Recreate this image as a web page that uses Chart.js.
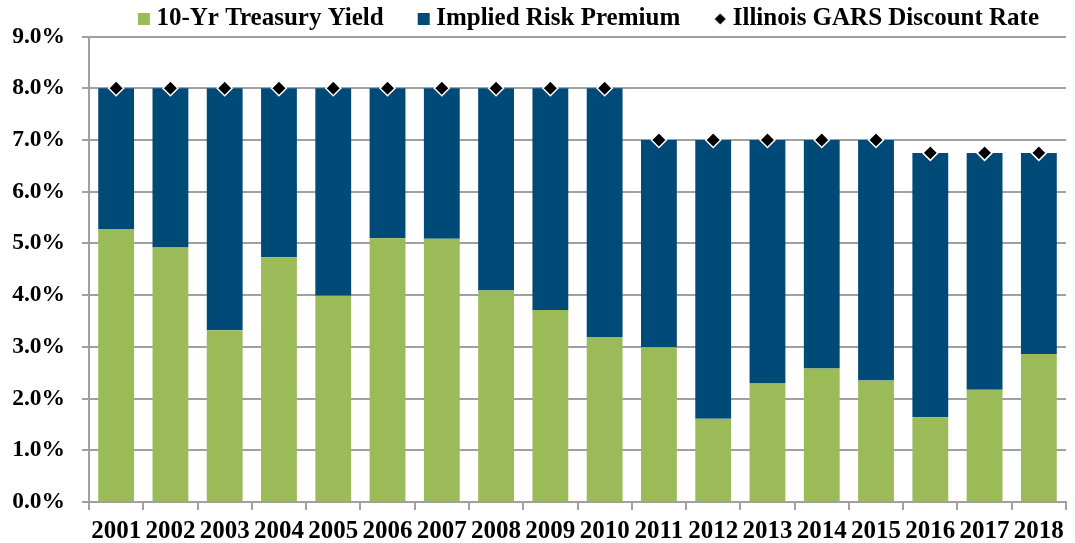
<!DOCTYPE html>
<html lang="en">
<head>
  <meta charset="UTF-8">
  <title>Illinois GARS Discount Rate</title>
  <script src="https://cdn.jsdelivr.net/npm/chart.js"></script>
  <style>
    html, body { margin: 0; padding: 0; background: #fff; overflow: hidden; }
    #wrap { width: 1075px; height: 543px; }
  </style>
</head>
<body>
<div id="wrap"><canvas id="rateChart"></canvas></div>

<script>
  // fiscal years on the x axis
  const years = ['2001', '2002', '2003', '2004', '2005', '2006', '2007', '2008', '2009',
                 '2010', '2011', '2012', '2013', '2014', '2015', '2016', '2017', '2018'];

  // 10-year treasury yield (%)
  const treasuryYield = [5.28, 4.92, 3.32, 4.73, 3.99, 5.10, 5.09, 4.09, 3.71,
                         3.19, 2.99, 1.61, 2.29, 2.58, 2.35, 1.64, 2.17, 2.86];

  // assumed discount rate (%)
  const discountRate = [8.0, 8.0, 8.0, 8.0, 8.0, 8.0, 8.0, 8.0, 8.0,
                        8.0, 7.0, 7.0, 7.0, 7.0, 7.0, 6.75, 6.75, 6.75];

  // risk premium is whatever sits between the yield and the discount rate
  const riskPremium = discountRate.map((r, i) => +(r - treasuryYield[i]).toFixed(2));

  const yTicks = [0, 1, 2, 3, 4, 5, 6, 7, 8, 9];

  const serif = '"Liberation Serif", "Times New Roman", serif';
  const xTickFont = { family: serif, weight: 'bold', size: 25 };
  const yTickFont = { family: serif, weight: 'bold', size: 23.5 };
  const legendFont = { family: serif, weight: 'bold', size: 25 };
  const gridGray = '#a0a0a0';

  // small black diamond for the legend entry
  const legendDiamond = document.createElement('canvas');
  legendDiamond.width = 12;
  legendDiamond.height = 12;
  (function () {
    const c = legendDiamond.getContext('2d');
    c.fillStyle = '#000';
    c.beginPath();
    c.moveTo(6, 0.5); c.lineTo(11.5, 6); c.lineTo(6, 11.5); c.lineTo(0.5, 6);
    c.closePath();
    c.fill();
  })();

  new Chart(document.getElementById('rateChart'), {
    type: 'bar',
    data: {
      labels: years,
      datasets: [
        {
          label: '10-Yr Treasury Yield',
          data: treasuryYield,
          backgroundColor: '#9BBB59',
          borderWidth: 0,
          stack: 'rate',
          order: 1
        },
        {
          label: 'Implied Risk Premium',
          data: riskPremium,
          backgroundColor: '#004A78',
          borderWidth: 0,
          stack: 'rate',
          order: 1
        },
        {
          type: 'line',
          label: 'Illinois GARS Discount Rate',
          data: discountRate,
          showLine: false,
          pointStyle: 'rectRot',
          pointRadius: 7.5,
          pointHoverRadius: 7.5,
          pointBackgroundColor: '#000',
          pointBorderColor: '#fff',
          pointBorderWidth: 1.5,
          backgroundColor: '#000',
          borderColor: '#000',
          stack: 'marker',
          order: 0
        }
      ]
    },
    options: {
      responsive: true,
      maintainAspectRatio: false,
      animation: false,
      layout: { padding: { left: 0, right: -4, top: -33.5, bottom: 0 } },
      datasets: {
        bar: { barPercentage: 0.66, categoryPercentage: 1.0 }
      },
      plugins: {
        tooltip: { enabled: false },
        legend: {
          position: 'top',
          align: 'end',
          fullSize: true,
          maxHeight: 70,
          labels: {
            font: legendFont,
            color: '#000',
            usePointStyle: true,
            boxWidth: 0.01,
            boxHeight: 12,
            padding: 40,
            sort: (a, b) => a.datasetIndex - b.datasetIndex,
            generateLabels(chart) {
              const items = Chart.defaults.plugins.legend.labels.generateLabels(chart);
              items.forEach(item => {
                item.lineWidth = 0;
                item.pointStyle = item.datasetIndex < 2 ? 'rect' : legendDiamond;
              });
              return items;
            }
          }
        }
      },
      scales: {
        x: {
          stacked: true,
          grid: {
            offset: true,
            drawOnChartArea: false,
            drawTicks: true,
            tickLength: 8,
            color: gridGray,
            lineWidth: 2
          },
          border: { color: gridGray, width: 2 },
          ticks: { font: xTickFont, color: '#000', padding: 7, maxRotation: 0, autoSkip: false },
          afterFit(scale) { scale.height = 41; }
        },
        y: {
          stacked: true,
          min: 0,
          max: 9,
          afterBuildTicks(scale) { scale.ticks = yTicks.map(v => ({ value: v })); },
          grid: { color: gridGray, lineWidth: 2, tickLength: 7 },
          border: { color: gridGray, width: 2 },
          ticks: {
            font: yTickFont,
            color: '#000',
            padding: 17,
            callback: v => v.toFixed(1) + '%'
          },
          afterFit(scale) { scale.width = 89; }
        }
      }
    }
  });
</script>
</body>
</html>
